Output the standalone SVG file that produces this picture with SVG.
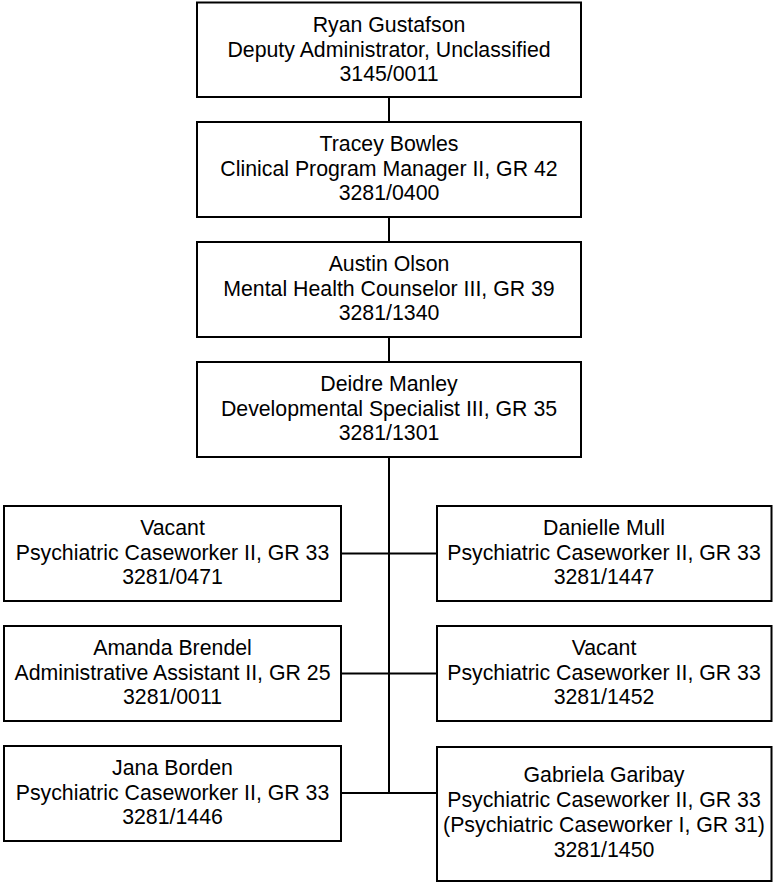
<svg xmlns="http://www.w3.org/2000/svg" width="773" height="883" viewBox="0 0 773 883">
<style>
.box{fill:#fff;stroke:#000;stroke-width:2}
.t{font-family:"Liberation Sans",Arial,sans-serif;font-size:21.3px;fill:#000;text-anchor:middle}
.c{stroke:#000;stroke-width:2;fill:none}
</style>
<rect width="773" height="883" fill="#fff"/>
<g id="connectors">
<line class="c" x1="389" y1="97" x2="389" y2="122"/>
<line class="c" x1="389" y1="217" x2="389" y2="242"/>
<line class="c" x1="389" y1="337" x2="389" y2="362"/>
<line class="c" x1="389" y1="457" x2="389" y2="794"/>
<line class="c" x1="341" y1="553.5" x2="437" y2="553.5"/>
<line class="c" x1="341" y1="673.5" x2="437" y2="673.5"/>
<line class="c" x1="341" y1="793" x2="437" y2="793"/>
</g>
<g id="ryan">
<rect class="box" x="197" y="2.5" width="384" height="94.5"/>
<text class="t" x="389" y="32">Ryan Gustafson</text>
<text class="t" x="389" y="56.5">Deputy Administrator, Unclassified</text>
<text class="t" x="389" y="81">3145/0011</text>
</g>
<g id="tracey">
<rect class="box" x="197" y="122" width="384" height="95"/>
<text class="t" x="389" y="151">Tracey Bowles</text>
<text class="t" x="389" y="175.5">Clinical Program Manager II, GR 42</text>
<text class="t" x="389" y="200">3281/0400</text>
</g>
<g id="austin">
<rect class="box" x="197" y="242" width="384" height="95"/>
<text class="t" x="389" y="271">Austin Olson</text>
<text class="t" x="389" y="295.5">Mental Health Counselor III, GR 39</text>
<text class="t" x="389" y="320">3281/1340</text>
</g>
<g id="deidre">
<rect class="box" x="197" y="362" width="384" height="95"/>
<text class="t" x="389" y="391">Deidre Manley</text>
<text class="t" x="389" y="415.5">Developmental Specialist III, GR 35</text>
<text class="t" x="389" y="440">3281/1301</text>
</g>
<g id="vacant-0471">
<rect class="box" x="4" y="506" width="337" height="95"/>
<text class="t" x="172.5" y="535">Vacant</text>
<text class="t" x="172.5" y="559.5">Psychiatric Caseworker II, GR 33</text>
<text class="t" x="172.5" y="584">3281/0471</text>
</g>
<g id="amanda">
<rect class="box" x="4" y="626" width="337" height="95"/>
<text class="t" x="172.5" y="655">Amanda Brendel</text>
<text class="t" x="172.5" y="679.5">Administrative Assistant II, GR 25</text>
<text class="t" x="172.5" y="704">3281/0011</text>
</g>
<g id="jana">
<rect class="box" x="4" y="746" width="337" height="95"/>
<text class="t" x="172.5" y="775">Jana Borden</text>
<text class="t" x="172.5" y="799.5">Psychiatric Caseworker II, GR 33</text>
<text class="t" x="172.5" y="824">3281/1446</text>
</g>
<g id="danielle">
<rect class="box" x="437" y="506" width="334.5" height="95"/>
<text class="t" x="604" y="535">Danielle Mull</text>
<text class="t" x="604" y="559.5">Psychiatric Caseworker II, GR 33</text>
<text class="t" x="604" y="584">3281/1447</text>
</g>
<g id="vacant-1452">
<rect class="box" x="437" y="626" width="334.5" height="95"/>
<text class="t" x="604" y="655">Vacant</text>
<text class="t" x="604" y="679.5">Psychiatric Caseworker II, GR 33</text>
<text class="t" x="604" y="704">3281/1452</text>
</g>
<g id="gabriela">
<rect class="box" x="437" y="747" width="334.5" height="134"/>
<text class="t" x="604" y="782">Gabriela Garibay</text>
<text class="t" x="604" y="807">Psychiatric Caseworker II, GR 33</text>
<text class="t" x="604" y="832">(Psychiatric Caseworker I, GR 31)</text>
<text class="t" x="604" y="856.5">3281/1450</text>
</g>
</svg>
